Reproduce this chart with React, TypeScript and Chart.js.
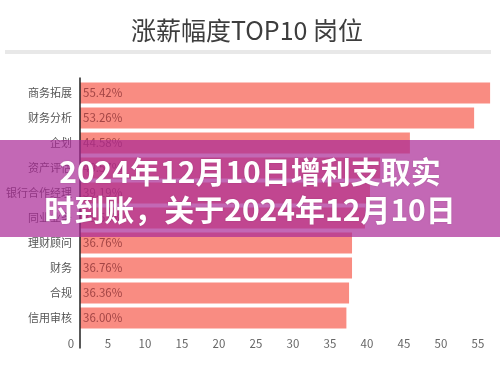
import React, { useEffect, useRef } from "react";
import { Chart, registerables } from "chart.js";

Chart.register(...registerables);

const titleText = "涨薪幅度TOP10 岗位";
const categories = ["商务拓展", "财务分析", "企划", "资产评估", "银行合作经理", "同业业务", "理财顾问", "财务", "合规", "信用审核"];
const values = [55.42, 53.26, 44.58, 40.57, 39.19, 38.51, 36.76, 36.76, 36.36, 36.0];
const xTicks = [0, 5, 10, 15, 20, 25, 30, 35, 40, 45, 50, 55];
const overlayLines = ["2024年12月10日增利支取实", "时到账，关于2024年12月10日"];

const FONT = '"Noto Sans CJK SC", "Noto Sans", sans-serif';

export default function App() {
  const canvasRef = useRef<HTMLCanvasElement | null>(null);

  useEffect(() => {
    const canvas = canvasRef.current;
    if (!canvas) return;

    const extras = {
      id: "extras",
      afterDatasetsDraw(chart: any) {
        const { ctx, chartArea } = chart;
        const xs = chart.scales.x;
        const x0 = xs.getPixelForValue(0);
        ctx.save();
        ctx.strokeStyle = "#222";
        ctx.lineWidth = 1.5;
        ctx.beginPath();
        ctx.moveTo(x0, chartArea.top - 3);
        ctx.lineTo(x0, chartArea.bottom + 18);
        ctx.stroke();
        const meta = chart.getDatasetMeta(0);
        ctx.font = `11.5px ${FONT}`;
        ctx.fillStyle = "#a34545";
        ctx.textBaseline = "middle";
        ctx.textAlign = "left";
        meta.data.forEach((bar: any, i: number) => {
          ctx.fillText(values[i].toFixed(2) + "%", x0 + 3, bar.y);
        });
        ctx.restore();
      },
    };

    const chart = new Chart(canvas, {
      type: "bar",
      data: {
        labels: categories,
        datasets: [
          {
            data: values,
            backgroundColor: "#f98c82",
            borderWidth: 0,
            barPercentage: 0.84,
            categoryPercentage: 1,
          },
        ],
      },
      options: {
        indexAxis: "y",
        responsive: false,
        animation: false,
        devicePixelRatio: 1,
        layout: { padding: { top: 80.5, bottom: 0, left: 0, right: 5.6 } },
        plugins: {
          legend: { display: false },
          tooltip: { enabled: false },
          title: { display: false },
        },
        scales: {
          y: {
            afterFit: (s: any) => {
              s.width = 80;
            },
            grid: { display: false, drawTicks: false },
            border: { display: false },
            ticks: {
              font: { size: 11, family: FONT },
              color: "#555",
              padding: 8,
            },
          },
          x: {
            min: 0,
            max: 56,
            afterFit: (s: any) => {
              s.height = 49.5;
            },
            afterBuildTicks: (s: any) => {
              s.ticks = xTicks.map((v) => ({ value: v }));
            },
            grid: { display: false, drawTicks: false },
            border: { display: false },
            ticks: {
              font: { size: 11.5, family: FONT },
              color: "#666",
              padding: 6,
              labelOffset: -9,
              maxRotation: 0,
              autoSkip: false,
            },
          },
        },
      },
      plugins: [extras],
    });

    return () => chart.destroy();
  }, []);

  return (
    <div
      style={{
        position: "fixed",
        top: 0,
        left: 0,
        width: 500,
        height: 380,
        background: "#fff",
        overflow: "hidden",
      }}
    >
      <canvas ref={canvasRef} width={500} height={380} style={{ position: "absolute", top: 0, left: 0 }} />
      <div
        style={{
          position: "absolute",
          top: 14,
          left: 0,
          width: 494,
          height: 30,
          lineHeight: "30px",
          textAlign: "center",
          fontFamily: FONT,
          fontSize: 25,
          color: "#3d3d3d",
        }}
      >
        {titleText}
      </div>
      <div
        style={{
          position: "absolute",
          top: 50,
          left: 5,
          width: 486,
          height: 4,
          background: "#e8e8e8",
        }}
      />
      <div
        style={{
          position: "absolute",
          top: 140,
          left: 0,
          width: 500,
          height: 97,
          background: "rgba(170, 40, 150, 0.7)",
          display: "flex",
          flexDirection: "column",
          justifyContent: "center",
          alignItems: "center",
          fontFamily: FONT,
          fontWeight: 700,
          fontSize: 30,
          lineHeight: "38px",
          color: "#fff",
          textShadow: "0 0 2px rgba(0,0,0,0.15)",
        }}
      >
        {overlayLines.map((l, i) => (
          <div key={i} style={{ whiteSpace: "nowrap" }}>
            {l}
          </div>
        ))}
      </div>
    </div>
  );
}
